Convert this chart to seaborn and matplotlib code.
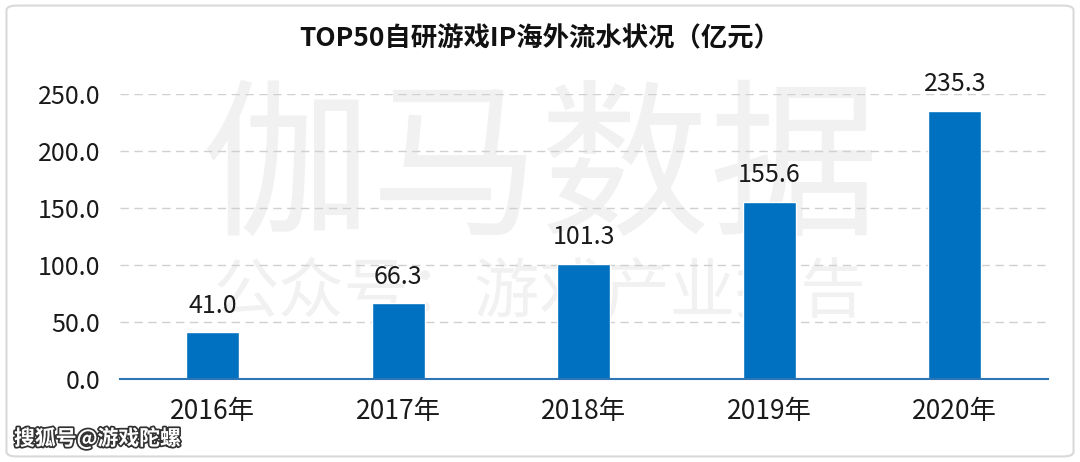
import matplotlib
matplotlib.use("Agg")
import matplotlib.pyplot as plt
import matplotlib.patheffects as pe
from matplotlib.patches import FancyBboxPatch
import seaborn as sns
import pandas as pd

# 数据
anos = ["2016年", "2017年", "2018年", "2019年", "2020年"]
valores = [41.0, 66.3, 101.3, 155.6, 235.3]
ticks_y = [0, 50, 100, 150, 200, 250]

titulo = "TOP50自研游戏IP海外流水状况（亿元）"

sns.set_theme(style="white")
plt.rcParams["font.family"] = ["Noto Sans CJK SC", "DejaVu Sans"]

df = pd.DataFrame({"ano": anos, "valor": valores})

fig = plt.figure(figsize=(10.8, 4.62), dpi=100)
ax = fig.add_axes([0.111, 0.1797, 0.859, 0.6168])
ax.set_zorder(2)
ax.set_facecolor("none")

# marca d'água (por baixo do gráfico)
fig.text(0.5, 0.625, "伽马数据", ha="center", va="center", fontsize=122,
         color="#F1F1F1", zorder=0)
fig.text(0.5, 0.365, "公众号：游戏产业报告", ha="center", va="center", fontsize=47,
         color="#F1F1F1", zorder=0)

sns.barplot(data=df, x="ano", y="valor", color="#0070C0", width=0.286,
            saturation=1, ax=ax, zorder=3)

for i, v in enumerate(valores):
    ax.text(i, v + 12, f"{v:.1f}", ha="center", va="bottom", fontsize=18,
            color="#1A1A1A", clip_on=False)

ax.set_ylim(0, 250)
ax.set_yticks(ticks_y)
ax.set_yticklabels([f"{t:.1f}" for t in ticks_y], fontsize=18, color="#1A1A1A")
ax.tick_params(axis="x", labelsize=19, colors="#1A1A1A", length=0, pad=14)
ax.tick_params(axis="y", length=0, pad=14)
ax.set_xlabel("")
ax.set_ylabel("")

ax.yaxis.grid(True, linestyle=(0, (6, 4)), color="#D0D0D0", linewidth=1)
ax.set_axisbelow(True)
for s in ["top", "right", "left"]:
    ax.spines[s].set_visible(False)
ax.spines["bottom"].set_color("#2E75B6")
ax.spines["bottom"].set_linewidth(1.5)
ax.spines["bottom"].set_zorder(4)

fig.text(0.5, 0.917, titulo, ha="center", va="center", fontsize=19,
         fontweight="bold", color="#111111")

fig.text(0.013, 0.052, "搜狐号@游戏陀螺", ha="left", va="center", fontsize=15,
         fontweight="bold", color="white",
         path_effects=[pe.withStroke(linewidth=2.5, foreground="#333333")])

borda = FancyBboxPatch((0.006, 0.012), 0.988, 0.976, boxstyle="round,pad=0,rounding_size=0.01",
                       transform=fig.transFigure, fill=False, edgecolor="#D9D9D9",
                       linewidth=1.5)
fig.patches.append(borda)

fig.savefig("out.png", dpi=100)
